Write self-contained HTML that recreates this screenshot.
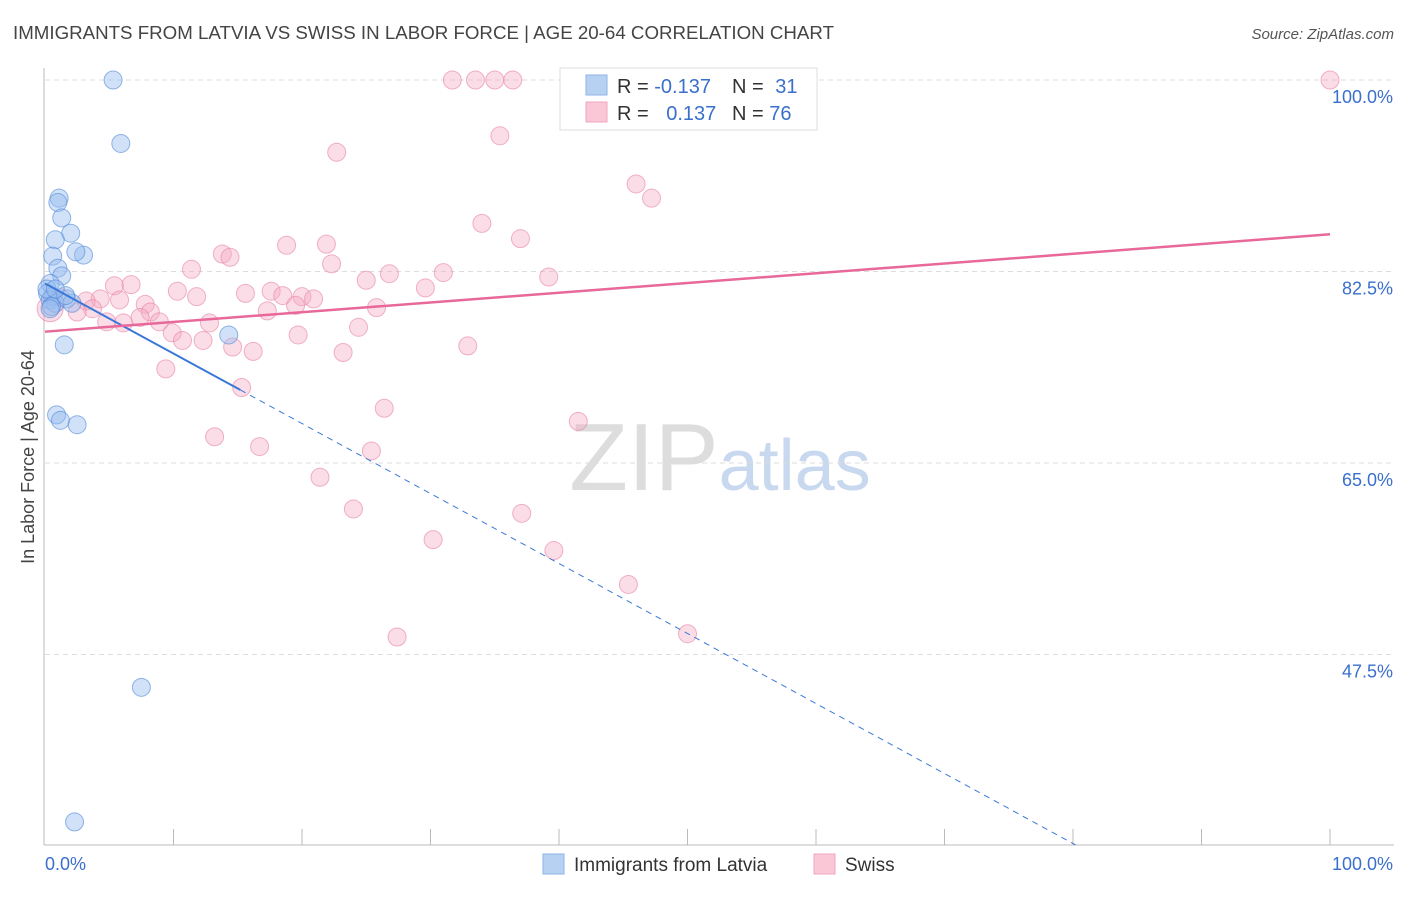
<!DOCTYPE html>
<html><head><meta charset="utf-8"><style>
body{margin:0;background:#fff;font-family:"Liberation Sans",sans-serif;}
svg text{font-family:"Liberation Sans",sans-serif;}
</style></head><body>
<svg id="chart" width="1406" height="892" xmlns="http://www.w3.org/2000/svg">
<text x="13" y="39" font-size="18" fill="#444" textLength="821" lengthAdjust="spacingAndGlyphs">IMMIGRANTS FROM LATVIA VS SWISS IN LABOR FORCE | AGE 20-64 CORRELATION CHART</text>
<text x="1394" y="39" font-size="15" fill="#555" text-anchor="end" font-style="italic">Source: ZipAtlas.com</text>
<text x="720" y="490" font-size="96" text-anchor="middle" fill="#ddd" font-family="Liberation Serif">ZIP<tspan fill="#c8d8ee" font-family="Liberation Sans" font-size="72">atlas</tspan></text>
<text transform="translate(34,457) rotate(-90)" font-size="18" fill="#444" text-anchor="middle">In Labor Force | Age 20-64</text>
<g id="grid"></g><g id="axes"></g><g id="pts"></g><g id="trend"></g>
<g>
<rect x="560" y="68" width="257" height="62" fill="#fff" stroke="#ddd"/>
<rect x="586" y="75" width="21" height="20" fill="#b7d1f3" stroke="#8fb3e6"/>
<rect x="586" y="102" width="21" height="20" fill="#f9c7d6" stroke="#f0a5bd"/>
<text x="617" y="93" font-size="20" fill="#333">R = <tspan fill="#3a6fcc">-0.137</tspan></text>
<text x="732" y="93" font-size="20" fill="#333">N = <tspan fill="#3a6fcc" dx="6">31</tspan></text>
<text x="617" y="120" font-size="20" fill="#333">R = <tspan fill="#3a6fcc" dx="12">0.137</tspan></text>
<text x="732" y="120" font-size="20" fill="#333">N = <tspan fill="#3a6fcc">76</tspan></text>
</g>
<g>
<rect x="543" y="854" width="21" height="20" fill="#b7d1f3" stroke="#8fb3e6"/>
<text x="574" y="871" font-size="19" fill="#333">Immigrants from Latvia</text>
<rect x="814" y="854" width="21" height="20" fill="#f9c7d6" stroke="#f0a5bd"/>
<text x="845" y="871" font-size="19" fill="#333">Swiss</text>
</g>
</svg>
<script>
const yTicks=[100,82.5,65,47.5];
const yTickLabels=["100.0%","82.5%","65.0%","47.5%"];
const latviaX=[5.3,5.9,1.1,1.0,1.3,2.0,0.8,3.0,2.4,0.6,1.0,1.3,0.4,0.2,0.6,0.4,0.8,1.7,2.1,0.5,1.5,0.9,1.2,2.5,7.5,2.3,14.3,1.6,0.15,0.4,0.8];
const latviaY=[100,94.2,89.2,88.8,87.4,86.0,85.4,84.0,84.3,83.9,82.8,82.1,81.4,80.5,80.2,79.9,79.6,80.0,79.6,79.3,75.8,69.4,68.9,68.5,44.5,32.2,76.7,80.3,80.9,79.1,80.9];
const swissX=[100,31.7,33.5,35.0,36.4,35.4,22.7,46.0,47.2,34.0,37.0,18.8,21.9,13.8,14.4,11.4,22.3,26.8,25.0,31.0,39.2,29.6,5.4,6.7,17.6,18.5,15.6,20.0,20.9,11.8,10.3,5.8,4.3,3.2,1.2,7.8,8.2,3.7,2.5,19.5,25.8,17.3,7.4,8.9,6.1,4.8,12.8,24.4,9.9,10.7,12.3,19.7,14.6,16.2,23.2,32.9,9.4,15.3,26.4,41.5,13.2,16.7,25.4,21.4,24.0,37.1,30.2,39.6,45.4,50.0,27.4,0.4];
const swissY=[100,100,100,100,100,94.9,93.4,90.5,89.2,86.9,85.5,84.9,85.0,84.1,83.8,82.7,83.2,82.3,81.7,82.4,82.0,81.0,81.2,81.3,80.7,80.3,80.5,80.2,80.0,80.2,80.7,79.9,80.0,79.8,80.1,79.5,78.8,79.1,78.8,79.4,79.2,78.9,78.3,77.9,77.8,77.9,77.8,77.4,76.9,76.2,76.2,76.7,75.6,75.2,75.1,75.7,73.6,71.9,70.0,68.8,67.4,66.5,66.1,63.7,60.8,60.4,58.0,57.0,53.9,49.4,49.1,79.1];
const latviaTrend=[81.4,30.1];
const swissTrend=[77.0,85.9];
const NS="http://www.w3.org/2000/svg";
const X=v=>45+v*12.85;
const Y=v=>80+(100-v)*191.5/17.5;
function mk(tag,attrs,parent){const e=document.createElementNS(NS,tag);for(const k in attrs)e.setAttribute(k,attrs[k]);parent.appendChild(e);return e;}
const grid=document.getElementById('grid'),axes=document.getElementById('axes'),pts=document.getElementById('pts'),tr=document.getElementById('trend');
yTicks.forEach((t,i)=>{
 const l=mk('line',{x1:45,x2:1394,y1:Y(t),y2:Y(t),stroke:'#ddd','stroke-dasharray':'5,4'},grid);
 
 
 const tx=mk('text',{x:1393,y:Y(t)+23,'font-size':18,fill:'#3a6fcc','text-anchor':'end'},axes);
 tx.textContent=yTickLabels[i];
 
 
});
const ay=mk('line',{x1:44,x2:44,y1:68,y2:845,stroke:'#bbb'},axes);


const ax=mk('line',{x1:44,x2:1394,y1:845,y2:845,stroke:'#bbb'},axes);


for(let i=1;i<=10;i++){const t=mk('line',{x1:X(i*10),x2:X(i*10),y1:829,y2:845,stroke:'#bbb'},axes);
 
 }
const x0=mk('text',{x:45,y:870,'font-size':18,fill:'#3a6fcc'},axes);x0.textContent='0.0%';


const x1=mk('text',{x:1393,y:870,'font-size':18,fill:'#3a6fcc','text-anchor':'end'},axes);x1.textContent='100.0%';


swissX.forEach((v,i)=>{const c=mk('circle',{cx:X(v),cy:Y(swissY[i]),r:i==swissX.length-1?13:9,fill:'rgba(246,170,195,0.4)',stroke:'rgba(232,130,165,0.6)','stroke-width':1},pts);
 
 });
latviaX.forEach((v,i)=>{const c=mk('circle',{cx:X(v),cy:Y(latviaY[i]),r:9,fill:'rgba(150,188,240,0.45)',stroke:'rgba(80,135,215,0.6)','stroke-width':1},pts);
 
 });
const bl=v=>latviaTrend[0]+(latviaTrend[1]-latviaTrend[0])*v/80.2;
const ls=mk('line',{x1:X(0),y1:Y(bl(0)),x2:X(15.2),y2:Y(bl(15.2)),stroke:'#3a78d8','stroke-width':2},tr);


const ld=mk('line',{x1:X(15.2),y1:Y(bl(15.2)),x2:X(80.2),y2:Y(bl(80.2)),stroke:'#3a78d8','stroke-width':1,'stroke-dasharray':'6,5'},tr);


const sl=mk('line',{x1:X(0),y1:Y(swissTrend[0]),x2:X(100),y2:Y(swissTrend[1]),stroke:'#e8689a','stroke-width':2.5},tr);


</script>
</body></html>
